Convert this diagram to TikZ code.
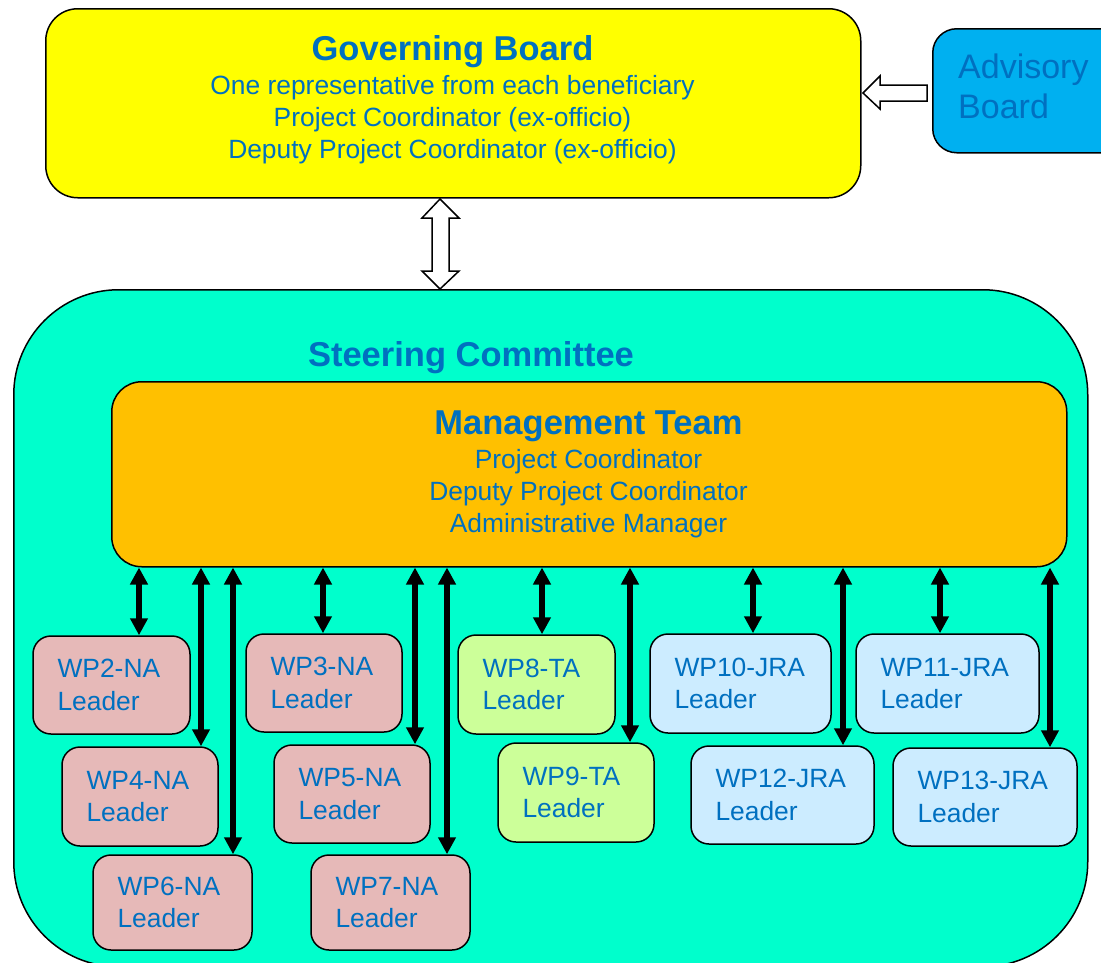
\documentclass[tikz,border=0pt]{standalone}
\usepackage{fontspec}
\setmainfont{Liberation Sans}
\usetikzlibrary{arrows.meta}
\definecolor{txtblue}{HTML}{0070C0}
\definecolor{gbyellow}{HTML}{FFFF00}
\definecolor{abblue}{HTML}{00B0F0}
\definecolor{scaqua}{HTML}{00FFCC}
\definecolor{mtorange}{HTML}{FFC000}
\definecolor{nafill}{HTML}{E6B9B8}
\definecolor{tafill}{HTML}{CCFF99}
\definecolor{jrafill}{HTML}{CCECFF}
\begin{document}
\begin{tikzpicture}[x=1pt,y=-1pt,
  box/.style={draw=black, line width=1.5pt, rectangle, inner sep=0pt, anchor=north west},
  titletext/.style={text=txtblue, font=\fontsize{34.5}{41}\selectfont\bfseries, inner sep=0pt},
  bodytext/.style={text=txtblue, font=\fontsize{26.4}{32}\selectfont, align=center, inner sep=0pt},
  wp/.style={draw=black, line width=1.5pt, rounded corners=18pt, text=txtblue,
    font=\fontsize{26.4}{32.5}\selectfont, align=left, inner xsep=24.5pt, inner ysep=0pt, anchor=center},
  link/.style={line width=5.5pt, {Triangle[width=17pt,length=17pt]}-{Triangle[width=17pt,length=17pt]}},
  blockarrow/.style={draw=black, line width=1.5pt, fill=white, line join=miter}
]
\useasboundingbox (0,0) rectangle (1101,962);
\clip (0,0) rectangle (1101,962);

% Steering committee
\node[box, fill=scaqua, rounded corners=105pt, minimum width=1074pt, minimum height=677pt] (sc) at (13,289) {};
\node[titletext, anchor=base] (sct) at (471,366.4) {Steering Committee};

% Management team
\node[box, fill=mtorange, rounded corners=30pt, minimum width=955pt, minimum height=185pt] (mt) at (111,381) {};
\node[titletext, anchor=base] (mtt) at (588.5,434.4) {Management Team};
\node[bodytext, anchor=base] (mtb) at (588.5,532.5) {Project Coordinator\\Deputy Project Coordinator\\Administrative Manager};

% WP boxes
\node[wp, fill=nafill, minimum width=157pt, minimum height=98pt, text width=108pt] (wp2) at (111.5,685) {WP2-NA\\Leader};
\node[wp, fill=nafill, minimum width=156pt, minimum height=99pt, text width=107pt] (wp4) at (140,796.5) {WP4-NA\\Leader};
\node[wp, fill=nafill, minimum width=159pt, minimum height=95pt, text width=110pt] (wp6) at (172.5,902.5) {WP6-NA\\Leader};
\node[wp, fill=nafill, minimum width=156pt, minimum height=98pt, text width=107pt] (wp3) at (324,683) {WP3-NA\\Leader};
\node[wp, fill=nafill, minimum width=156pt, minimum height=98pt, text width=107pt] (wp5) at (352,794) {WP5-NA\\Leader};
\node[wp, fill=nafill, minimum width=159pt, minimum height=95pt, text width=110pt] (wp7) at (390.5,902.5) {WP7-NA\\Leader};
\node[wp, fill=tafill, minimum width=157pt, minimum height=99pt, text width=108pt] (wp8) at (536.5,684.5) {WP8-TA\\Leader};
\node[wp, fill=tafill, minimum width=156pt, minimum height=99pt, text width=107pt] (wp9) at (576,792.5) {WP9-TA\\Leader};
\node[wp, fill=jrafill, minimum width=181pt, minimum height=99pt, text width=132pt] (wp10) at (740.5,683.5) {WP10-JRA\\Leader};
\node[wp, fill=jrafill, minimum width=183pt, minimum height=98pt, text width=134pt] (wp12) at (782.5,795) {WP12-JRA\\Leader};
\node[wp, fill=jrafill, minimum width=183pt, minimum height=99pt, text width=134pt] (wp11) at (947.5,683.5) {WP11-JRA\\Leader};
\node[wp, fill=jrafill, minimum width=184pt, minimum height=98pt, text width=135pt] (wp13) at (985,797) {WP13-JRA\\Leader};

% connector x positions
\coordinate (x2) at (139,0);
\coordinate (x4) at (201,0);
\coordinate (x6) at (233,0);
\coordinate (x3) at (323,0);
\coordinate (x5) at (415,0);
\coordinate (x7) at (447,0);
\coordinate (x8) at (542,0);
\coordinate (x9) at (630,0);
\coordinate (x10) at (753,0);
\coordinate (x12) at (843,0);
\coordinate (x11) at (940,0);
\coordinate (x13) at (1050,0);

\draw[link] (mt.south -| x2) -- (wp2.north -| x2);
\draw[link] (mt.south -| x4) -- (wp4.north -| x4);
\draw[link] (mt.south -| x6) -- (wp6.north -| x6);
\draw[link] (mt.south -| x3) -- (wp3.north -| x3);
\draw[link] (mt.south -| x5) -- (wp5.north -| x5);
\draw[link] (mt.south -| x7) -- (wp7.north -| x7);
\draw[link] (mt.south -| x8) -- (wp8.north -| x8);
\draw[link] (mt.south -| x9) -- (wp9.north -| x9);
\draw[link] (mt.south -| x10) -- (wp10.north -| x10);
\draw[link] (mt.south -| x12) -- (wp12.north -| x12);
\draw[link] (mt.south -| x11) -- (wp11.north -| x11);
\draw[link] (mt.south -| x13) -- (wp13.north -| x13);

% Governing board
\node[box, fill=gbyellow, rounded corners=32pt, minimum width=815pt, minimum height=189pt] (gb) at (45,8) {};
\node[titletext, anchor=base] (gbt) at (452.5,60.5) {Governing Board};
\node[bodytext, anchor=base] (gbb) at (452.5,158.5) {One representative from each beneficiary\\Project Coordinator (ex-officio)\\Deputy Project Coordinator (ex-officio)};

% Advisory board
\node[box, fill=abblue, rounded corners=24pt, minimum width=200pt, minimum height=124pt] (ab) at (932,28) {};
\node[text=txtblue, font=\fontsize{34}{40}\selectfont, align=left, inner sep=0pt, anchor=base west] (abt) at (958,118.2) {Advisory\\Board};

% block arrows
\draw[blockarrow] (863,93) -- (880,76) -- (880,85) -- (927,85) -- (927,101) -- (880,101) -- (880,109) -- cycle;
\draw[blockarrow] (440,199) -- (459,218) -- (449,218) -- (449,271) -- (459,271) -- (440,289)
  -- (422,271) -- (432,271) -- (432,218) -- (422,218) -- cycle;
\end{tikzpicture}
\end{document}
